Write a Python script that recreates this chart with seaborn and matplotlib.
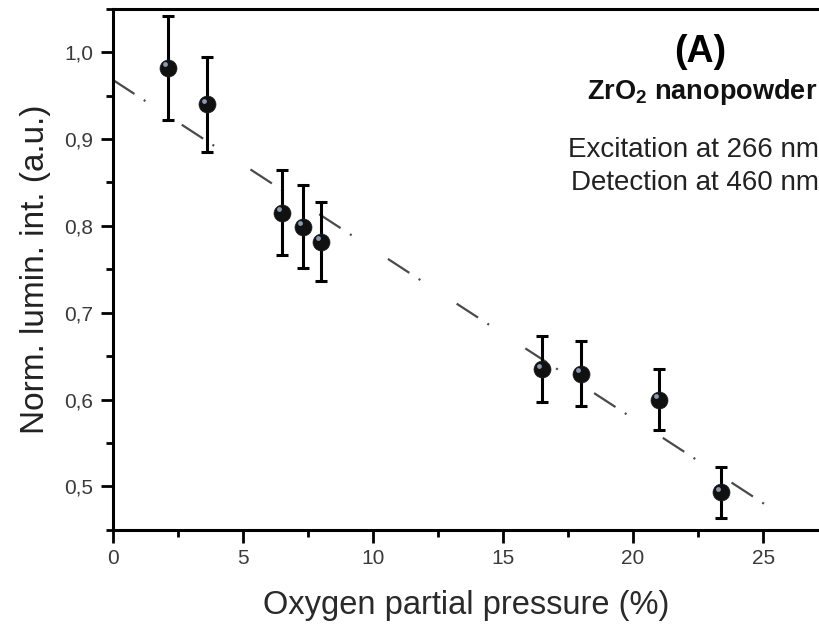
import matplotlib
matplotlib.use("Agg")
import matplotlib.pyplot as plt
import seaborn as sns
import pandas as pd
from matplotlib.ticker import MultipleLocator, FuncFormatter

# Data
pressure = [2.1, 3.6, 6.5, 7.3, 8.0, 16.5, 18.0, 21.0, 23.4]
intensity = [0.982, 0.940, 0.815, 0.799, 0.782, 0.635, 0.630, 0.600, 0.493]
error = [0.060, 0.055, 0.049, 0.048, 0.046, 0.038, 0.037, 0.035, 0.029]
fit_x = [0.0, 25.5]
fit_y = [0.968, 0.471]

df = pd.DataFrame({"p": pressure, "i": intensity, "e": error})
fit = pd.DataFrame({"x": fit_x, "y": fit_y})

sns.set_theme(style="white")
plt.rcParams['font.family'] = ['Liberation Sans', 'DejaVu Sans']
plt.rcParams['mathtext.fontset'] = 'custom'
plt.rcParams['mathtext.rm'] = 'Liberation Sans'
plt.rcParams['mathtext.bf'] = 'Liberation Sans:bold'

fig = plt.figure(figsize=(8.19, 6.27), dpi=100)
ax = fig.add_axes([0.138, 0.155, 0.862, 0.831])

sns.lineplot(data=fit, x="x", y="y", ax=ax, color="#4a4a4a", lw=1.6,
             dashes=False, zorder=1)
ax.lines[-1].set_dashes([11.5, 5, 0.9, 19.5])

ax.errorbar(df["p"], df["i"], yerr=df["e"], fmt="none", ecolor="black",
            elinewidth=2.2, capsize=4.5, capthick=2.2, zorder=2)
sns.scatterplot(data=df, x="p", y="i", ax=ax, s=150, color="#111111",
                edgecolor="#222222", linewidth=0.5, zorder=3)
# highlight
ax.scatter(df["p"] - 0.12, df["i"] + 0.004, s=12, color="#8a9ab0", zorder=4,
           linewidths=0)

ax.set_xlim(0, 27.15)
ax.set_ylim(0.45, 1.05)
ax.xaxis.set_major_locator(MultipleLocator(5))
ax.xaxis.set_minor_locator(MultipleLocator(2.5))
ax.yaxis.set_major_locator(MultipleLocator(0.1))
ax.yaxis.set_minor_locator(MultipleLocator(0.05))
ax.yaxis.set_major_formatter(FuncFormatter(lambda v, pos: f"{v:.1f}".replace(".", ",")))

for side in ["top", "left", "bottom"]:
    ax.spines[side].set_visible(True)
    ax.spines[side].set_color("black")
    ax.spines[side].set_linewidth(2.2)
ax.spines["right"].set_visible(False)

ax.tick_params(which="major", direction="out", length=9, width=2, color="black",
               labelsize=15, labelcolor="#3a3a3a", bottom=True, left=True, pad=5)
ax.tick_params(which="minor", direction="out", length=5, width=2, color="black",
               bottom=True, left=True)

ax.set_xlabel("Oxygen partial pressure (%)", fontsize=23.5, color="#2a2a2a", labelpad=16)
ax.set_ylabel("Norm. lumin. int. (a.u.)", fontsize=24, color="#222222", labelpad=10)

ax.text(0.831, 0.918, "(A)", transform=ax.transAxes, fontsize=27, fontweight="bold",
        ha="center", va="center", color="black")
ax.text(0.998, 0.841, r"ZrO$_\mathbf{2}$ nanopowder", transform=ax.transAxes, fontsize=19.5,
        fontweight="bold", ha="right", va="center", color="#111111")
ax.text(1.0, 0.729, "Excitation at 266 nm", transform=ax.transAxes, fontsize=20,
        ha="right", va="center", color="#222222")
ax.text(1.0, 0.666, "Detection at 460 nm", transform=ax.transAxes, fontsize=20,
        ha="right", va="center", color="#222222")

fig.savefig("out.png", dpi=100)
